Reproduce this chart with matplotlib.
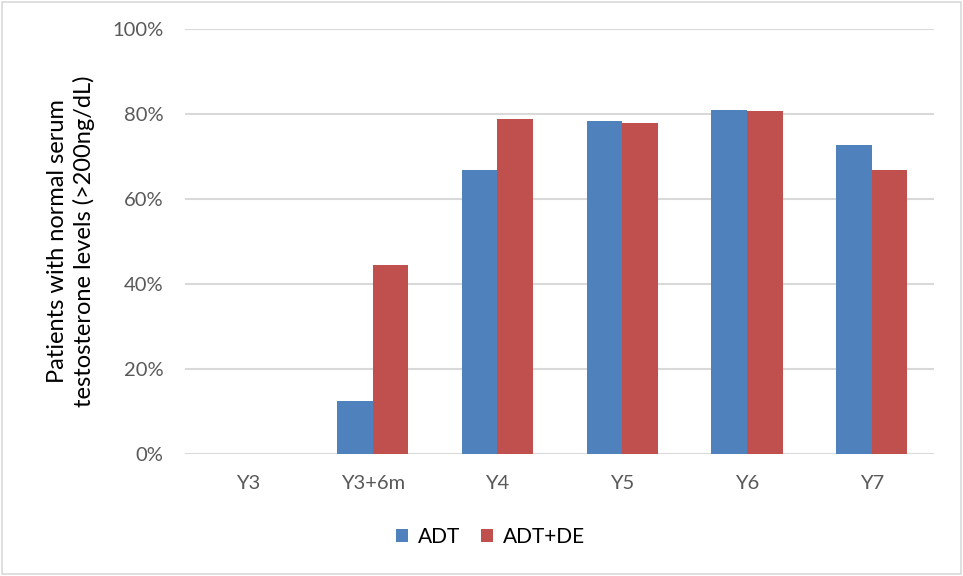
import numpy as np
import matplotlib.pyplot as plt
from matplotlib.patches import Rectangle
from matplotlib.ticker import PercentFormatter

# Datos
categorias = ["Y3", "Y3+6m", "Y4", "Y5", "Y6", "Y7"]
adt = [0.0, 12.5, 66.7, 78.3, 81.0, 72.7]
adt_de = [0.0, 44.4, 78.9, 77.8, 80.7, 66.7]
series = ["ADT", "ADT+DE"]
colores = ["#4F81BD", "#C0504D"]

plt.rcParams["font.family"] = ["Lato", "DejaVu Sans"]

fig = plt.figure(figsize=(9.63, 5.76), dpi=100)
fig.patches.append(Rectangle((0.002, 0.003), 0.996, 0.994, transform=fig.transFigure,
                             fill=False, edgecolor="#D9D9D9", linewidth=1.2))
ax = fig.add_axes([0.1926, 0.2123, 0.7774, 0.7374])

x = np.arange(len(categorias))
ancho = 0.285
ax.bar(x - ancho / 2, adt, ancho, color=colores[0], label=series[0], zorder=3)
ax.bar(x + ancho / 2, adt_de, ancho, color=colores[1], label=series[1], zorder=3)

ax.set_xlim(-0.5, len(categorias) - 0.5)
ax.set_ylim(0, 100)
ax.set_yticks(np.arange(0, 101, 20))
ax.yaxis.set_major_formatter(PercentFormatter(decimals=0))
ax.set_xticks(x)
ax.set_xticklabels(categorias)
ax.grid(axis="y", color="#D9D9D9", linewidth=1.5, zorder=0)
for s in ["top", "right", "left", "bottom"]:
    ax.spines[s].set_visible(False)
ax.tick_params(axis="both", length=0, labelsize=14.5, colors="#595959")
ax.tick_params(axis="x", pad=15)
ax.tick_params(axis="y", pad=16)

ax.set_ylabel("Patients with normal serum\ntestosterone levels (>200ng/dL)",
              fontsize=17, color="black", linespacing=1.25)
ax.yaxis.set_label_coords(-0.121, 0.5)

fig.legend(loc="center", bbox_to_anchor=(0.509, 0.068), ncol=2, frameon=False,
           fontsize=15, handlelength=0.6, handleheight=0.6, handletextpad=0.45,
           columnspacing=1.0)

fig.savefig("out.png", dpi=100)
